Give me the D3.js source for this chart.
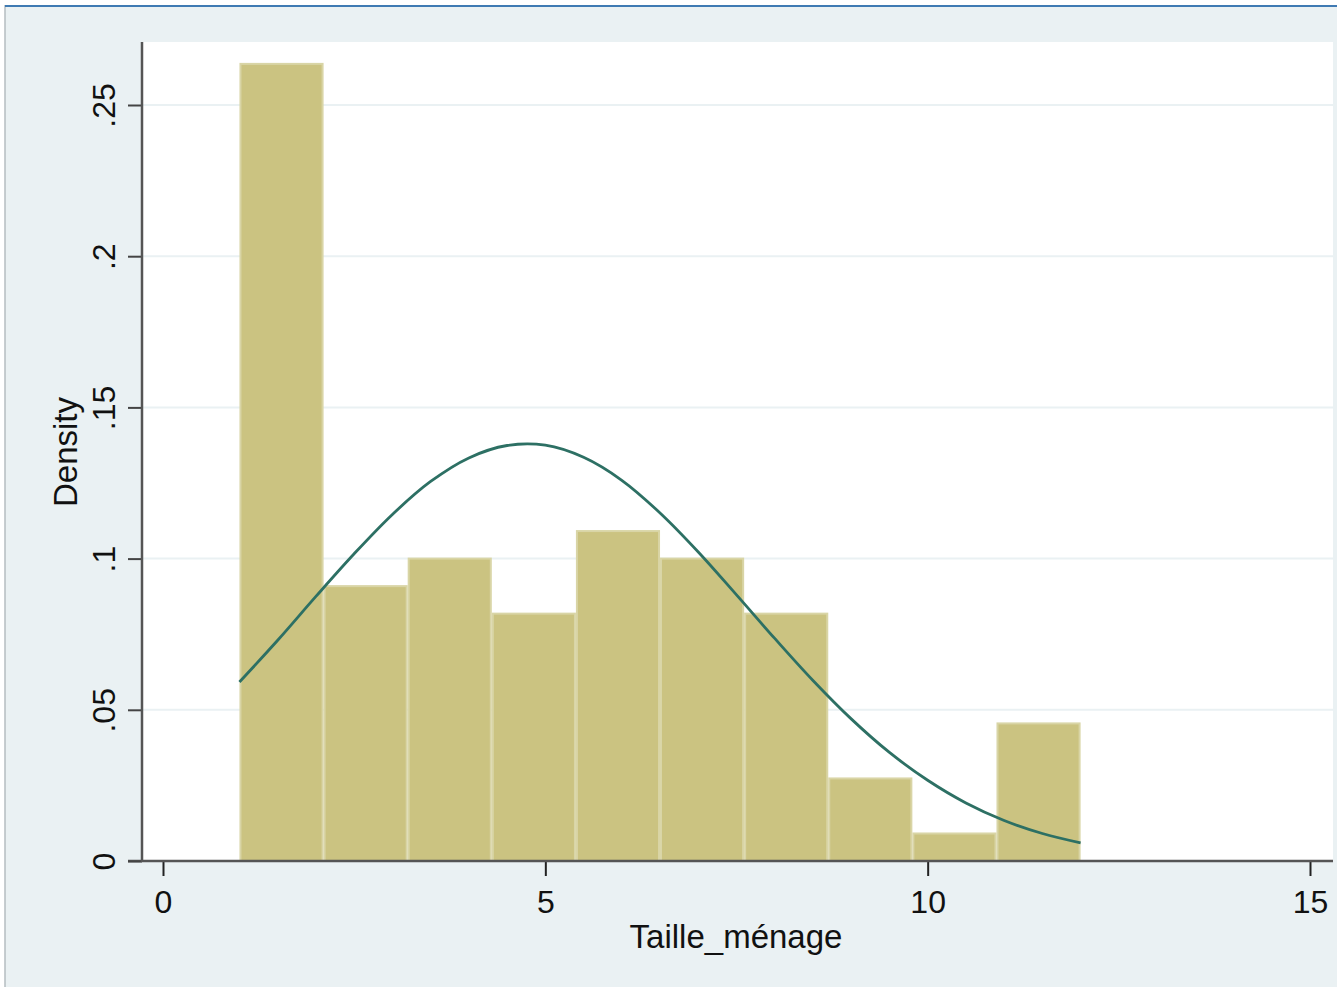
<!DOCTYPE html>
<html>
<head>
<meta charset="utf-8">
<script src="https://cdn.jsdelivr.net/npm/d3@7"></script>
<style>
  html, body { margin: 0; padding: 0; background: #ffffff; }
  svg { display: block; font-family: "Liberation Sans", Arial, sans-serif; }
</style>
</head>
<body>
<svg id="chart" width="1337" height="987"></svg>
<script>
// ---- data ----
const binEdges = [1, 2.1, 3.2, 4.3, 5.4, 6.5, 7.6, 8.7, 9.8, 10.9, 12];
const densities = [0.2636, 0.0909, 0.1000, 0.0818, 0.1091, 0.1000, 0.0818, 0.0273, 0.0091, 0.0455];
const curveX = [1, 1.5, 2, 2.5, 3, 3.5, 4, 4.5, 5, 5.5, 6, 6.5, 7, 7.5, 8, 8.5, 9, 9.5, 10, 10.5, 11, 11.5, 12];
const curveY = [0.0592, 0.0730, 0.0875, 0.1016, 0.1146, 0.1255, 0.1333, 0.1374, 0.1375, 0.1335, 0.1259, 0.1151,
                0.1022, 0.0880, 0.0736, 0.0597, 0.0470, 0.0359, 0.0267, 0.0192, 0.0134, 0.0091, 0.0060];
const xTicks = [0, 5, 10, 15];
const yTicks = [0, 0.05, 0.1, 0.15, 0.2, 0.25];
const yTickLabels = ["0", ".05", ".1", ".15", ".2", ".25"];
const xTitle = "Taille_ménage";
const yTitle = "Density";

// ---- layout ----
const svg = d3.select("#chart");
const plotL = 142, plotR = 1333, plotT = 42, plotB = 861;
const x = d3.scaleLinear().domain([0, 15]).range([163, 1310]);
const y = d3.scaleLinear().domain([0, 0.25]).range([plotB, 105]);

// outer background
svg.append("rect").attr("x", 5).attr("y", 5).attr("width", 1332).attr("height", 982).attr("fill", "#eaf1f3");
svg.append("line").attr("x1", 5).attr("x2", 5).attr("y1", 5).attr("y2", 987).attr("stroke", "#b5bcc0").attr("stroke-width", 1.5);
svg.append("line").attr("x1", 5).attr("x2", 1337).attr("y1", 6).attr("y2", 6).attr("stroke", "#3f7ab3").attr("stroke-width", 2);

// plot region
svg.append("rect").attr("x", plotL).attr("y", plotT).attr("width", plotR - plotL).attr("height", plotB - plotT).attr("fill", "#ffffff");

// gridlines
svg.append("g").selectAll("line").data(yTicks.filter(d => d > 0)).join("line")
  .attr("x1", plotL).attr("x2", plotR)
  .attr("y1", d => y(d)).attr("y2", d => y(d))
  .attr("stroke", "#eaf1f3").attr("stroke-width", 2);

// bars
const bins = densities.map((d, i) => ({ x0: binEdges[i], x1: binEdges[i + 1], v: d }));
svg.append("g").selectAll("rect").data(bins).join("rect")
  .attr("x", d => x(d.x0) + 1)
  .attr("width", d => x(d.x1) - x(d.x0) - 2)
  .attr("y", d => y(d.v))
  .attr("height", d => y(0) - y(d.v))
  .attr("fill", "#cbc381")
  .attr("stroke", "#d9d5a6")
  .attr("stroke-width", 2);

// normal curve
const line = d3.line().x(d => x(d[0])).y(d => y(d[1])).curve(d3.curveCatmullRom);
svg.append("path")
  .datum(curveX.map((v, i) => [v, curveY[i]]))
  .attr("d", line)
  .attr("fill", "none")
  .attr("stroke", "#2d7064")
  .attr("stroke-width", 2.8);

// axes
const xAxis = d3.axisBottom(x).tickValues(xTicks).tickSize(15).tickSizeOuter(0).tickFormat(d3.format("d"));
const gx = svg.append("g").attr("transform", `translate(0,${plotB})`).call(xAxis);
gx.select(".domain").remove();
gx.selectAll(".tick line").attr("stroke", "#222").attr("stroke-width", 2);
gx.selectAll(".tick text").attr("font-size", 32).attr("fill", "#111").attr("y", 29).attr("dy", "0.71em")
  .style("font-family", "'Liberation Sans', Arial, sans-serif");
svg.append("line").attr("x1", 128).attr("x2", plotR).attr("y1", plotB).attr("y2", plotB)
  .attr("stroke", "#555").attr("stroke-width", 2.5);

const yAxis = d3.axisLeft(y).tickValues(yTicks).tickSize(14).tickSizeOuter(0).tickFormat((d, i) => yTickLabels[i]);
const gy = svg.append("g").attr("transform", `translate(${plotL},0)`).call(yAxis);
gy.select(".domain").remove();
gy.selectAll(".tick line").attr("stroke", "#444").attr("stroke-width", 2);
gy.selectAll(".tick text")
  .attr("font-size", 32).attr("fill", "#111")
  .attr("x", null).attr("dy", null)
  .attr("text-anchor", "middle")
  .attr("transform", "translate(-27,0) rotate(-90)")
  .style("font-family", "'Liberation Sans', Arial, sans-serif");
svg.append("line").attr("x1", plotL).attr("x2", plotL).attr("y1", plotT).attr("y2", plotB + 1)
  .attr("stroke", "#555").attr("stroke-width", 2.5);

// titles
svg.append("text").attr("x", 736).attr("y", 948).attr("text-anchor", "middle")
  .attr("font-size", 33).attr("fill", "#111").text(xTitle);
svg.append("text").attr("transform", "translate(77,452) rotate(-90)").attr("text-anchor", "middle")
  .attr("font-size", 33).attr("fill", "#111").text(yTitle);
</script>
</body>
</html>
